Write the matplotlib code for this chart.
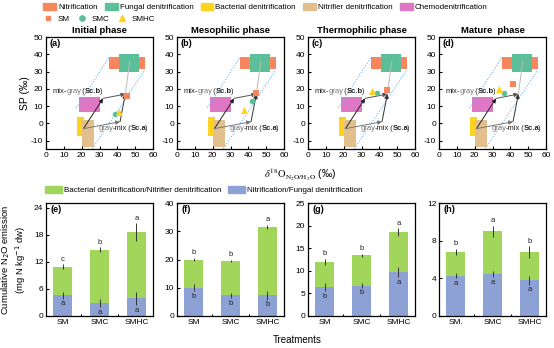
import matplotlib.pyplot as plt
from matplotlib.patches import Rectangle, Patch
from matplotlib.lines import Line2D

plt.rcParams['font.family'] = ['Liberation Sans', 'DejaVu Sans']
plt.rcParams['font.size'] = 6
plt.rcParams['axes.unicode_minus'] = False

# ------------------------------
# Data: isotope source regions (d18O range, SP range)
# ------------------------------
source_names = ['Nitrification', 'Fungal denitrification', 'Bacterial denitrification',
                'Nitrifier denitrification', 'Chemodenitrification']
source_colors = ['#F7855E', '#5DBF9A', '#FFD21F', '#E2C08E', '#DE78C4']
source_x = [(35.5, 55.5), (41, 52), (17.5, 21.5), (20, 27), (18.5, 30.5)]
source_sp = [(31.7, 38.7), (30, 40), (-7.5, 4), (-13.5, 2), (6.7, 15.5)]

# mixing / reduction scenario points
gray_start = (21, -3)
scb_turn = (32, 14.5)
sca_turn = (41.5, 1)
mix_end = (44.5, 17)
fungal_ref = (47, 36)
dotted_left = [(17, 35.5), (9, 38.5)]
dotted_right = [(26, 55.5), (-14.5, 31)]

# samples per phase
phases = ['Initial phase', 'Mesophilic phase', 'Thermophilic phase', 'Mature  phase']
sm_d18o = [45.3, 44.4, 44.4, 41.3]
sm_sp = [15.8, 17.9, 19.6, 23.1]
smc_d18o = [38.6, 42.2, 38.9, 36.4]
smc_sp = [5.4, 13.1, 17.9, 17.7]
smhc_d18o = [40.8, 37.8, 36.1, 33.4]
smhc_sp = [6.7, 7.7, 18.8, 20.0]

# ------------------------------
# Data: cumulative N2O emission
# ------------------------------
treatments = ['SM', 'SMC', 'SMHC']
h_treatments = ['SM.', 'SMC', 'SMHC']
total_e = [10.9, 14.7, 18.5]; total_err_e = [0.6, 0.5, 2.0]
blue_e = [4.6, 2.8, 3.9]; blue_err_e = [0.8, 0.9, 1.5]
top_lab_e = ['c', 'b', 'a']; low_lab_e = ['a', 'a', 'a']

total_f = [20.0, 19.5, 31.5]; total_err_f = [0.7, 0.5, 0.8]
blue_f = [10.0, 7.3, 7.3]; blue_err_f = [1.2, 1.0, 1.5]
top_lab_f = ['b', 'b', 'a']; low_lab_f = ['b', 'b', 'b']

total_g = [12.0, 13.4, 18.6]; total_err_g = [0.7, 0.4, 0.8]
blue_g = [6.4, 6.7, 9.7]; blue_err_g = [0.9, 0.5, 1.1]
top_lab_g = ['b', 'b', 'a']; low_lab_g = ['b', 'b', 'a']

total_h = [6.8, 9.0, 6.8]; total_err_h = [0.35, 0.6, 0.6]
blue_h = [4.3, 4.45, 3.8]; blue_err_h = [0.3, 0.35, 0.5]
top_lab_h = ['b', 'a', 'b']; low_lab_h = ['a', 'a', 'a']

bar_sets = [
    (total_e, total_err_e, blue_e, blue_err_e, top_lab_e, low_lab_e, 25, [0, 6, 12, 18, 24], treatments),
    (total_f, total_err_f, blue_f, blue_err_f, top_lab_f, low_lab_f, 40, [0, 10, 20, 30, 40], treatments),
    (total_g, total_err_g, blue_g, blue_err_g, top_lab_g, low_lab_g, 25, [0, 5, 10, 15, 20, 25], treatments),
    (total_h, total_err_h, blue_h, blue_err_h, top_lab_h, low_lab_h, 12, [0, 4, 8, 12], h_treatments),
]

green = '#A2D65A'
blue = '#8EA1D4'

W, H = 554, 348
fig = plt.figure(figsize=(W / 100, H / 100), dpi=100)
lefts = [46, 177, 308, 439]
aw = 107


def chain_text(ax, x, y, pieces, fs=5.5):
    # pieces: (string, color, weight) drawn one after another
    t = ax.text(x, y, pieces[0][0], color=pieces[0][1], fontweight=pieces[0][2],
                fontsize=fs, va='bottom')
    for s, c, w in pieces[1:]:
        t = ax.annotate(s, xy=(1, 0), xycoords=t, xytext=(-0.6, 0), textcoords='offset points',
                        va='bottom', ha='left', color=c, fontweight=w, fontsize=fs)


# ------------------------------
# Top row: dual isotope plots
# ------------------------------
for i, l in enumerate(lefts):
    ax = fig.add_axes([l / W, 1 - 149.4 / H, aw / W, 112.4 / H])
    for k in [0, 1, 2, 3, 4]:
        (x0, x1), (y0, y1) = source_x[k], source_sp[k]
        ax.add_patch(Rectangle((x0, y0), x1 - x0, y1 - y0, color=source_colors[k], lw=0, zorder=1))
    ax.plot(*dotted_left, ls=(0, (1, 1.5)), color='#6FB4EE', lw=0.8, zorder=2)
    ax.plot(*dotted_right, ls=(0, (1, 1.5)), color='#6FB4EE', lw=0.8, zorder=2)
    ax.plot([fungal_ref[0], mix_end[0]], [fungal_ref[1], mix_end[1]], color='#BBBBBB', lw=0.7, zorder=2)

    def arrow(a, b, c):
        ax.annotate('', xy=b, xytext=a, zorder=3,
                    arrowprops=dict(arrowstyle='-|>', color=c, lw=0.7,
                                    mutation_scale=6, shrinkA=0, shrinkB=0))
    arrow(gray_start, scb_turn, '#222222')
    arrow(scb_turn, mix_end, '#555555')
    arrow(gray_start, sca_turn, '#777777')
    arrow(sca_turn, mix_end, '#333333')

    ax.scatter(sm_d18o[i], sm_sp[i], marker='s', s=14, color=source_colors[0], zorder=4, lw=0)
    ax.scatter(smc_d18o[i], smc_sp[i], marker='o', s=16, color=source_colors[1], zorder=4, lw=0)
    ax.scatter(smhc_d18o[i], smhc_sp[i], marker='^', s=26, color=source_colors[2], zorder=4, lw=0)

    chain_text(ax, 3.8, 16.3, [('mix-', '#222222', 'normal'), ('gray', '#777777', 'normal'),
                               (' (', '#222222', 'normal'), ('Sc.b', '#222222', 'bold'),
                               (')', '#222222', 'normal')])
    chain_text(ax, 29.6, -5.2, [('gray', '#777777', 'normal'), ('-mix', '#222222', 'normal'),
                                (' (', '#222222', 'normal'), ('Sc.a', '#222222', 'bold'),
                                (')', '#222222', 'normal')])

    ax.set_xlim(0, 60)
    ax.set_ylim(-15, 50)
    ax.set_xticks(range(0, 61, 10))
    ax.set_yticks(range(-10, 51, 10))
    ax.tick_params(direction='in', length=2.5, width=0.8, labelsize=6, pad=2)
    for sp in ax.spines.values():
        sp.set_linewidth(0.9)
    ax.set_title(phases[i], fontsize=6.8, fontweight='bold', pad=3)
    ax.text(0.03, 0.985, '(%s)' % 'abcd'[i], transform=ax.transAxes, fontsize=6.5,
            fontweight='bold', va='top')
    if i == 0:
        ax.set_ylabel('SP (‰)', fontsize=7.5, labelpad=1)

fig.text(300 / W, 1 - 175 / H, r'$\delta^{18}\mathrm{O}_{\mathrm{N_2O/H_2O}}$ (‰)',
         math_fontfamily='stix', fontsize=7.5, ha='center', va='center')

# ------------------------------
# Bottom row: stacked bars
# ------------------------------
x = [0, 1, 2]
for i, l in enumerate(lefts):
    ax = fig.add_axes([l / W, 1 - 316 / H, aw / W, 113 / H])
    tot, terr, bl, berr, tl, ll, ymax, yt, labels = bar_sets[i]
    gr = [t - b for t, b in zip(tot, bl)]
    ax.bar(x, bl, width=0.5, color=blue, zorder=1)
    ax.bar(x, gr, bottom=bl, width=0.5, color=green, zorder=1)
    ax.errorbar(x, tot, yerr=terr, fmt='none', ecolor='#333333', elinewidth=0.7, capsize=0, zorder=2)
    ax.errorbar(x, bl, yerr=berr, fmt='none', ecolor='#333333', elinewidth=0.7, capsize=0, zorder=2)
    for j in x:
        ax.annotate(tl[j], xy=(j, tot[j] + terr[j]), xytext=(0, 1), textcoords='offset points',
                    ha='center', va='bottom', fontsize=5.5, color='#222222')
        ax.annotate(ll[j], xy=(j, bl[j] - berr[j]), xytext=(0, -1), textcoords='offset points',
                    ha='center', va='top', fontsize=5.5, color='#222222')
    ax.set_xlim(-0.45, 2.45)
    ax.set_ylim(0, ymax)
    ax.set_yticks(yt)
    ax.set_xticks(x)
    ax.set_xticklabels(labels)
    ax.set_xticks([0.5, 1.5], minor=True)
    ax.tick_params(direction='in', length=2.5, width=0.8, labelsize=6, pad=2)
    ax.tick_params(axis='x', which='major', length=0)
    ax.tick_params(axis='x', which='minor', direction='in', length=1.5, width=0.8)
    for sp in ax.spines.values():
        sp.set_linewidth(0.9)
    ax.text(0.04, 0.985, '(%s)' % 'efgh'[i], transform=ax.transAxes, fontsize=6.5,
            fontweight='bold', va='top')
    if i == 0:
        ax.set_ylabel('Cumulative N$_2$O emission\n(mg N kg$^{-1}$ dw)', fontsize=6.8,
                      linespacing=1.2)
        ax.yaxis.set_label_coords(-0.165, 0.5)

fig.text(297 / W, 1 - 340 / H, 'Treatments', fontsize=7, ha='center', va='center')

# ------------------------------
# Legends
# ------------------------------
src_handles = [Patch(color=c, label=n) for n, c in zip(source_names, source_colors)]
fig.legend(handles=src_handles, loc='upper left', bbox_to_anchor=(43 / W, 1 - 3 / H), ncol=5,
           frameon=False, fontsize=5.8, handlelength=1.6, handleheight=0.9, handletextpad=0.25,
           columnspacing=0.9, borderaxespad=0, borderpad=0)
pt_handles = [Line2D([], [], ls='', marker='s', ms=3.5, color=source_colors[0], label='SM'),
              Line2D([], [], ls='', marker='o', ms=3.8, color=source_colors[1], label='SMC'),
              Line2D([], [], ls='', marker='^', ms=4.5, color=source_colors[2], label='SMHC')]
fig.legend(handles=pt_handles, loc='upper left', bbox_to_anchor=(42 / W, 1 - 15 / H), ncol=3,
           frameon=False, fontsize=5.8, handlelength=1.6, handletextpad=0.4,
           columnspacing=0.7, borderaxespad=0, borderpad=0)
bar_handles = [Patch(color=green, label='Bacterial denitrification/Nitrifier denitrification'),
               Patch(color=blue, label='Nitrification/Fungal denitrification')]
fig.legend(handles=bar_handles, loc='upper left', bbox_to_anchor=(45 / W, 1 - 186 / H), ncol=2,
           frameon=False, fontsize=5.8, handlelength=2.1, handleheight=0.9, handletextpad=0.3,
           columnspacing=0.8, borderaxespad=0, borderpad=0)

fig.savefig('out.png', dpi=100)
